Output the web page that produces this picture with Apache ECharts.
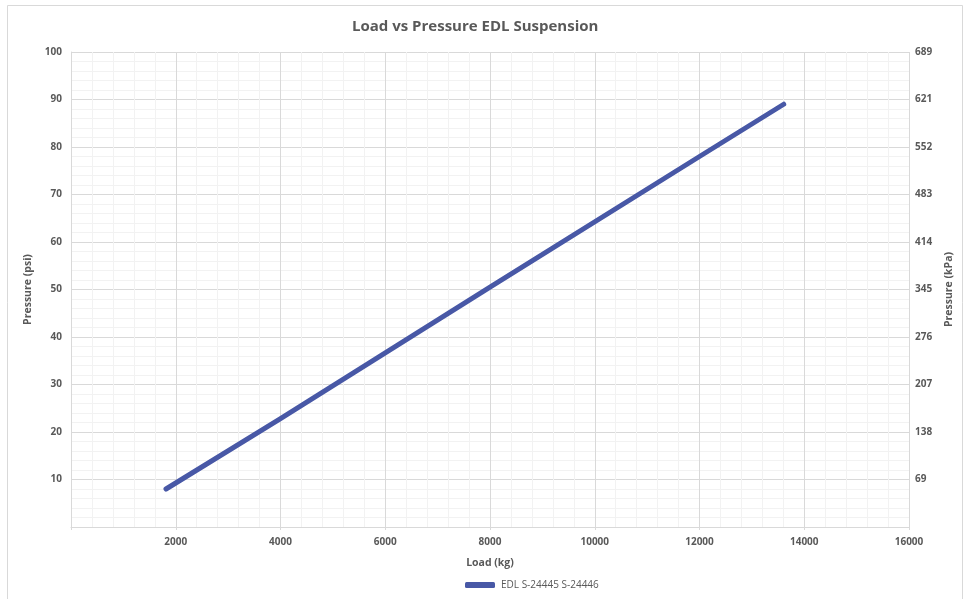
<!DOCTYPE html>
<html>
<head>
<meta charset="utf-8">
<title>Load vs Pressure EDL Suspension</title>
<script src="https://cdn.jsdelivr.net/npm/echarts@6/dist/echarts.min.js"></script>
<style>
  html, body { margin: 0; padding: 0; background: #ffffff; }
  #chart { width: 970px; height: 599px; }
</style>
</head>
<body>
<div id="chart"></div>
<script>
// Load (kg) against air pressure (psi) for the EDL suspension
const seriesName = 'EDL S-24445 S-24446';
const loadKg = [1814, 4000, 8000, 12000, 13608];
const pressurePsi = [8, 22.8, 50.5, 78, 89];

// Axis ranges and steps
const loadRange = [0, 16000, 2000];
const psiRange = [0, 100, 10];
const PSI_TO_KPA = 6.89476;

const textColor = '#595959';
const fontFamily = '"Open Sans", Lato, sans-serif';

const chart = echarts.init(document.getElementById('chart'), null, { renderer: 'canvas' });

const points = loadKg.map((x, i) => [x, pressurePsi[i]]);

const axisLabelStyle = { fontFamily: fontFamily, fontSize: 10, fontWeight: 'bold', color: textColor };
const axisNameStyle = { fontFamily: fontFamily, fontSize: 10.5, fontWeight: 'bold', color: textColor };

const option = {
  animation: false,
  backgroundColor: '#ffffff',
  textStyle: { fontFamily: fontFamily },
  title: {
    text: 'Load vs Pressure EDL Suspension',
    left: 347,
    top: 14,
    textStyle: { fontFamily: fontFamily, fontSize: 15, fontWeight: 'bold', color: textColor }
  },
  graphic: [{
    type: 'rect',
    shape: { x: 7.5, y: 5.5, width: 955, height: 600 },
    style: { fill: 'none', stroke: '#d9d9d9', lineWidth: 1 },
    silent: true
  }],
  legend: {
    top: 575,
    left: 460,
    itemWidth: 30,
    itemHeight: 6,
    itemGap: 10,
    icon: 'roundRect',
    textStyle: { fontFamily: fontFamily, fontSize: 10, color: textColor, padding: [0, 0, 0, 1] },
    data: [seriesName]
  },
  grid: { left: 71, right: 61, top: 52, bottom: 72, containLabel: false },
  xAxis: {
    type: 'value',
    min: loadRange[0], max: loadRange[1], interval: loadRange[2],
    name: 'Load (kg)',
    nameLocation: 'middle',
    nameGap: 31,
    nameTextStyle: axisNameStyle,
    axisLine: { show: true, lineStyle: { color: '#d9d9d9', width: 1 } },
    axisTick: { show: true, length: 3, lineStyle: { color: '#d9d9d9' } },
    axisLabel: Object.assign({
      margin: 10,
      formatter: v => (v === 0 ? '' : String(v))
    }, axisLabelStyle),
    splitLine: { show: true, lineStyle: { color: '#d9d9d9', width: 1 } },
    minorTick: { show: false, splitNumber: 5 },
    minorSplitLine: { show: true, lineStyle: { color: '#f2f2f2', width: 1 } }
  },
  yAxis: [{
    type: 'value',
    position: 'left',
    min: psiRange[0], max: psiRange[1], interval: psiRange[2],
    name: 'Pressure (psi)',
    nameLocation: 'middle',
    nameGap: 33,
    nameRotate: 90,
    nameTextStyle: axisNameStyle,
    axisLine: { show: true, lineStyle: { color: '#d9d9d9', width: 1 } },
    axisTick: { show: false },
    axisLabel: Object.assign({
      margin: 9,
      formatter: v => (v === 0 ? '' : String(v))
    }, axisLabelStyle),
    splitLine: { show: true, lineStyle: { color: '#d9d9d9', width: 1 } },
    minorTick: { show: false, splitNumber: 5 },
    minorSplitLine: { show: true, lineStyle: { color: '#f2f2f2', width: 1 } }
  }, {
    type: 'value',
    position: 'right',
    min: psiRange[0] * PSI_TO_KPA,
    max: psiRange[1] * PSI_TO_KPA,
    interval: psiRange[2] * PSI_TO_KPA,
    name: 'Pressure (kPa)',
    nameLocation: 'middle',
    nameGap: 30,
    nameRotate: 90,
    nameTextStyle: axisNameStyle,
    axisLine: { show: false },
    axisTick: { show: false },
    axisLabel: Object.assign({
      margin: 6,
      formatter: v => (Math.round(v) === 0 ? '' : String(Math.round(v)))
    }, axisLabelStyle),
    splitLine: { show: false }
  }],
  series: [{
    name: seriesName,
    type: 'line',
    yAxisIndex: 0,
    data: points,
    showSymbol: false,
    symbol: 'none',
    lineStyle: { color: '#4858a6', width: 5, cap: 'round', join: 'round' },
    itemStyle: { color: '#4858a6' }
  }]
};

chart.setOption(option);
</script>
</body>
</html>
